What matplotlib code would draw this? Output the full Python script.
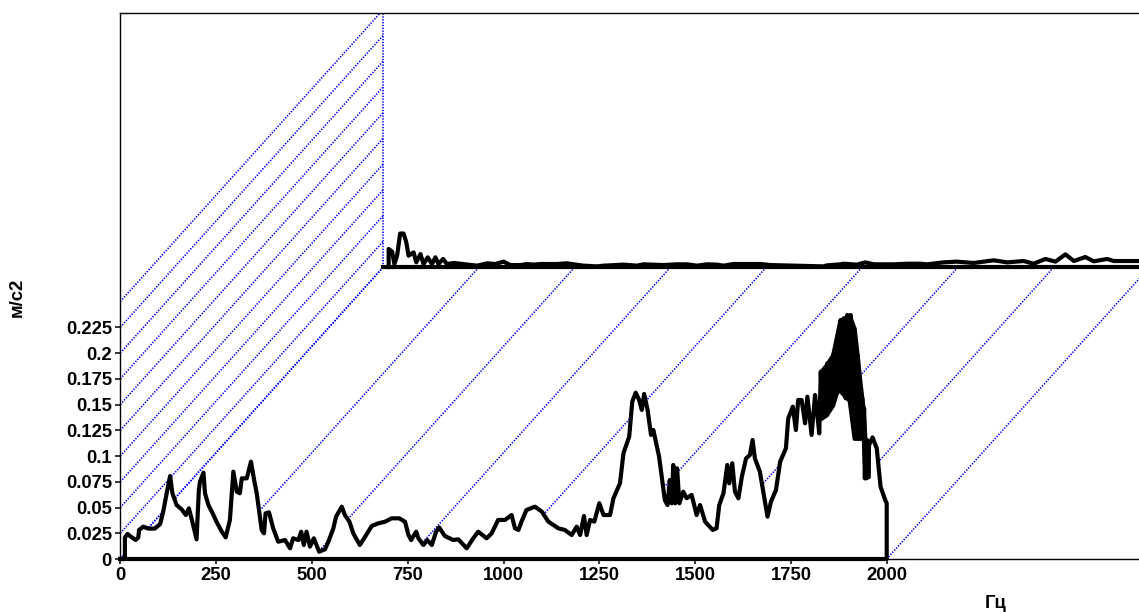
#!/usr/bin/env python

import matplotlib
matplotlib.use('Agg')
import matplotlib.pyplot as plt

plt.rc('font', **{'family': ['Liberation Sans', 'DejaVu Sans'], 'weight': 'bold', 'size': 13.3})

# front spectrum: frequency (Hz), acceleration (m/s2)
front_f = [0, 12, 12, 19, 30, 40, 47, 49, 60, 73, 90, 104, 112, 121, 130, 136, 147, 160, 171, 179,
           188, 199, 205, 208, 217, 221, 230, 243, 251, 265, 275, 286, 295, 304, 312, 317, 330, 341,
           350, 356, 369, 375, 379, 388, 399, 412, 430, 443, 451, 465, 472, 479, 486, 495, 505, 512,
           519, 534, 543, 556, 563, 578, 586, 598, 608, 625, 639, 656, 673, 691, 708, 728, 743, 752,
           759, 772, 778, 791, 801, 813, 824, 832, 847, 869, 882, 904, 921, 934, 956, 969, 986, 1004,
           1021, 1030, 1039, 1047, 1060, 1082, 1100, 1117, 1143, 1160, 1178, 1191, 1200, 1210, 1217,
           1226, 1237, 1250, 1261, 1278, 1287, 1304, 1313, 1328, 1336, 1345, 1354, 1361, 1367, 1376,
           1385, 1391, 1406, 1421, 1428, 1434, 1439, 1443, 1448, 1453, 1459, 1469, 1478, 1491, 1504,
           1513, 1526, 1546, 1556, 1563, 1574, 1584, 1589, 1597, 1604, 1613, 1622, 1633, 1643, 1650,
           1656, 1669, 1678, 1689, 1698, 1711, 1722, 1737, 1743, 1755, 1763, 1769, 1778, 1787, 1793,
           1804, 1813, 1819, 1824, 1828, 1832, 1836, 1841, 1845, 1849, 1854, 1858, 1862, 1867, 1871,
           1875, 1880, 1884, 1888, 1893, 1897, 1901, 1906, 1910, 1915, 1919, 1923, 1926, 1930, 1933,
           1936, 1939, 1941, 1943, 1945, 1947, 1949, 1951, 1954, 1963, 1974, 1984, 1996, 2000, 2000, 0]
front_a = [0, 0, .0210, .0243, .0210, .0185, .0210, .0282, .0314, .0295, .0295, .0340, .0460, .0638,
           .0806, .0638, .0524, .0482, .0427, .0492, .0362, .0191, .0670, .0751, .0838, .0638, .0524,
           .0427, .0362, .0265, .0210, .0379, .0848, .0654, .0638, .0783, .0783, .0945, .0751, .0638,
           .0282, .0249, .0443, .0453, .0298, .0168, .0184, .0104, .0201, .0184, .0265, .0136, .0265,
           .0120, .0201, .0136, .0071, .0094, .0168, .0298, .0411, .0508, .0427, .0362, .0249, .0136,
           .0217, .0320, .0346, .0362, .0395, .0395, .0362, .0233, .0184, .0265, .0201, .0136, .0184,
           .0136, .0265, .0307, .0223, .0184, .0191, .0104, .0201, .0265, .0201, .0249, .0379, .0379,
           .0427, .0298, .0282, .0363, .0476, .0508, .0460, .0363, .0298, .0282, .0233, .0314, .0233,
           .0418, .0233, .0379, .0363, .0541, .0427, .0427, .0590, .0735, .1026, .1188, .1528, .1615,
           .1544, .1447, .1602, .1447, .1204, .1253, .0994, .0573, .0524, .0767, .0541, .0913, .0541,
           .0880, .0541, .0654, .0590, .0622, .0427, .0524, .0363, .0282, .0298, .0524, .0638,
           .0913, .0735, .0929, .0654, .0589, .0799, .0977, .1010, .1155, .0977, .0848, .0654, .0411,
           .0557, .0670, .0945, .1075, .1365, .1479, .1252, .1544, .1544, .1317, .1576, .1204, .1592,
           .1400, .1220, .1819, .1366, .1835, .1431, .1900, .1479, .1916, .1528, .1997, .1608, .2159,
           .1722, .2320, .1608, .2337, .1560, .2369, .1544, .2369, .1528, .2239, .1172, .1981, .1172,
           .1760, .1172, .1560, .1172, .1463, .0783, .1155, .0783, .1155, .0800, .1107, .1181, .1075,
           .0702, .0573, .0541, 0, 0]

# where the front signal swings too fast to trace: upper and lower envelope
dense_f = [1828, 1842, 1859, 1868, 1878, 1888, 1902, 1915, 1923, 1930, 1939, 1943, 1952]
dense_hi = [.1819, .1883, .1981, .2142, .2320, .2337, .2369, .2239, .1981, .1722, .1447, .1172, .1107]
dense_lo = [.1366, .1398, .1495, .1608, .1657, .1592, .1544, .1172, .1172, .1172, .1172, .0799, .0799]

# back spectrum, drawn shifted into the depth of the chart
back_f = [14, 14, 23, 29, 36, 44, 53, 60, 66, 79, 86, 97, 105, 116, 127, 136, 144, 156, 166, 184, 214,
          245, 271, 292, 314, 331, 358, 375, 392, 410, 427, 453, 479, 497, 523, 558, 575, 627, 662,
          679, 732, 766, 792, 819, 845, 871, 888, 914, 984, 1010, 1149, 1158, 1193, 1201, 1236, 1258,
          1280, 1332, 1367, 1401, 1419, 1462, 1497, 1541, 1593, 1628, 1671, 1697, 1728, 1754, 1780,
          1802, 1832, 1854, 1889, 1906, 1973, 2000]
back_a = [0, .0175, .0149, .0029, .0110, .0325, .0325, .0239, .0110, .0142, .0045, .0126, .0029, .0094,
          .0029, .0094, .0029, .0078, .0029, .0039, .0026, .0013, .0036, .0029, .0052, .0019, .0019,
          .0029, .0023, .0029, .0029, .0029, .0036, .0026, .0013, .0006, .0013, .0023, .0013, .0026,
          .0019, .0026, .0026, .0013, .0026, .0023, .0013, .0029, .0029, .0019, .0006, .0016, .0026,
          .0032, .0023, .0045, .0026, .0026, .0032, .0032, .0026, .0045, .0052, .0039, .0065, .0045,
          .0058, .0032, .0078, .0052, .0123, .0058, .0097, .0055, .0078, .0058, .0058, .0058]

xtick_vals = [0, 250, 500, 750, 1000, 1250, 1500, 1750, 2000]
ytick_vals = [0, .025, .05, .075, .1, .125, .15, .175, .2, .225]
ytick_labels = ['0', '0.025', '0.05', '0.075', '0.1', '0.125', '0.15', '0.175', '0.2', '0.225']
grid_y_vals = ytick_vals + [.25]

# depth shift between the front and the back plane, in data units
DX = 686.3
DY = .2835
BLUE = '#0000ff'
DOT = (0, (.8, .9))
LW_CURVE = 3.0

fig = plt.figure(figsize=(11.39, 6.12), dpi=100)
ax = fig.add_axes([120.3/1139, (612-559)/612, (1139-120.3)/1139, (559-12.5)/612])
ax.set_xlim(0, 2658.4)
ax.set_ylim(0, .5306)

# depth lines
for v in xtick_vals:
    ax.plot([v, v+DX], [0, DY], color=BLUE, lw=1.2, ls=DOT, zorder=1)
for v in grid_y_vals:
    ax.plot([0, DX], [v, v+DY], color=BLUE, lw=1.2, ls=DOT, zorder=1)
ax.plot([DX, DX], [DY, .5306], color=BLUE, lw=1.2, ls=DOT, zorder=1)

# back curve
ax.plot([f+DX for f in back_f], [a+DY for a in back_a], color='k', lw=LW_CURVE, zorder=3, solid_joinstyle='round')
ax.plot([DX, 2000+DX], [DY, DY], color='k', lw=LW_CURVE, zorder=3)

# front curve hides what is behind it
ax.fill(front_f, front_a, color='w', lw=0, zorder=2)
ax.plot(front_f, front_a, color='k', lw=LW_CURVE, zorder=4, solid_joinstyle='round', clip_on=False)
ax.fill_between(dense_f, dense_lo, dense_hi, color='k', lw=LW_CURVE, zorder=4)

ax.spines['right'].set_visible(False)
for s in ('left', 'top', 'bottom'):
    ax.spines[s].set_linewidth(1.0)

ax.set_xticks(xtick_vals)
ax.set_xticklabels([str(v) for v in xtick_vals])
ax.set_yticks(ytick_vals)
ax.set_yticklabels(ytick_labels)
ax.tick_params(axis='both', length=3.5, width=1.1, pad=2.5)

fig.text(17/1139, 1-297.5/612, 'м/с2', rotation=90, ha='center', va='center')
fig.text(996/1139, 1-603/612, 'Гц', ha='center', va='center')

fig.savefig('out.png', dpi=100)
